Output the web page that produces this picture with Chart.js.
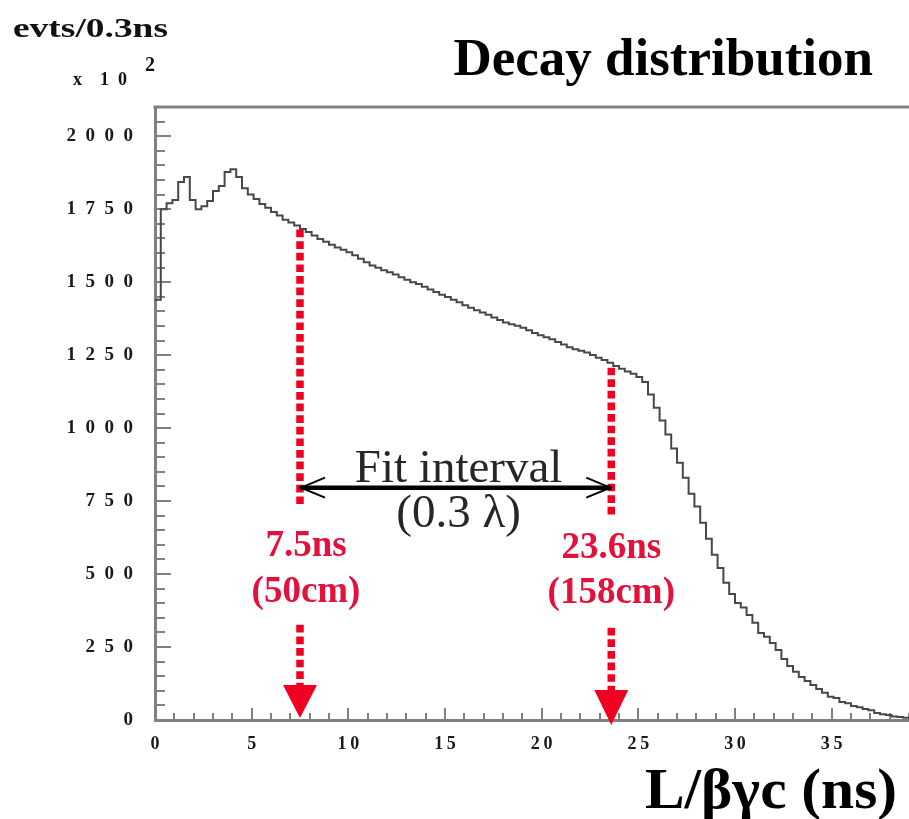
<!DOCTYPE html>
<html>
<head>
<meta charset="utf-8">
<title>Decay distribution</title>
<script src="https://cdn.jsdelivr.net/npm/chart.js@4.4.1/dist/chart.umd.min.js"></script>
<style>
  html, body { margin: 0; padding: 0; background: #ffffff; }
  canvas { display: block; }
</style>
</head>
<body>
<canvas id="decay" width="909" height="819"></canvas>
<script>
// Proper-time distribution, events per 0.3 ns bin (units of 10^2), first bin starts at 0 ns
const binStart = 0;
const binWidth = 0.3;
const counts = [
  1440, 1750, 1770, 1781, 1843, 1860, 1781, 1750, 1760, 1778,
  1812, 1829, 1877, 1887, 1860, 1822, 1800, 1785, 1768, 1755,
  1740, 1728, 1714, 1704, 1694, 1682, 1672, 1660, 1648, 1638,
  1628, 1619, 1611, 1602, 1592, 1580, 1568, 1557, 1549, 1541,
  1534, 1526, 1517, 1508, 1500, 1494, 1484, 1475, 1466, 1457,
  1449, 1440, 1431, 1421, 1412, 1404, 1396, 1388, 1379, 1370,
  1362, 1356, 1351, 1344, 1335, 1326, 1318, 1311, 1304, 1295,
  1286, 1277, 1270, 1265, 1259, 1250, 1241, 1233, 1224, 1213,
  1203, 1194, 1186, 1175, 1158, 1115, 1070, 1026,  978,  930,
   881,  830,  775,  731,  676,  621,  566,  521,  470,  432,
   401,  385,  360,  333,  298,  285,  264,  240,  209,  185,
   165,  147,  134,  120,  106,   93,   80,   75,   62,   57,
    48,   44,   38,   33,   24,   20,   17,   12,   10,    8
];

// Axis ranges and tick spacing
const xRange = [0, 39];
const yRange = [0, 2100];
const xMinorStep = 1, xMajorStep = 5;
const yMinorStep = 50, yMajorStep = 250;

// Fit interval limits (ns) and their captions
const fitLimits = [7.5, 23.6];
const fitTimeLabels = ['7.5ns', '23.6ns'];
const fitLengthLabels = ['(50cm)', '(158cm)'];

// Histogram outline: one point per bin low edge, plus the closing high edge
const outline = counts.map((v, i) => ({ x: binStart + i * binWidth, y: v }));
outline.push({ x: binStart + counts.length * binWidth, y: counts[counts.length - 1] });

const AXIS_GREY = '#808080';
const MARK_RED = '#f00020';
const TEXT_RED = '#e3123c';
const SERIF = '"Liberation Serif", "DejaVu Serif", serif';

// Vertical extents of the fit-limit markers, in y-axis units
const markerShape = {
  dashTop:    [1680, 1207],
  dashBottom: [730, 700],
  lowerTop:   [326, 316],
  headTop:    [120, 103],
  tip:        [7, -17],
  timeBase:   [562, 555],
  lengthBase: [404, 401],
  labelShift: [6, 0]
};
const fitArrowLevel = 796;

function spaced(v, sep) { return String(v).split('').join(sep); }

// Left-anchored text squeezed or widened to a given width
function drawStretched(ctx, text, x, y, width) {
  ctx.save();
  ctx.textAlign = 'left';
  const w = ctx.measureText(text).width;
  ctx.translate(x, y);
  ctx.scale(width / w, 1);
  ctx.fillText(text, 0, 0);
  ctx.restore();
}

const decorations = {
  id: 'decorations',
  beforeDatasetsDraw(chart) {
    const { ctx, chartArea: a, scales: { x, y } } = chart;
    ctx.save();
    ctx.strokeStyle = AXIS_GREY;
    // upper frame edge
    ctx.lineWidth = 3;
    ctx.beginPath();
    ctx.moveTo(a.left - 1.5, a.top);
    ctx.lineTo(a.right, a.top);
    ctx.stroke();
    // inward tick marks
    ctx.lineWidth = 2;
    ctx.beginPath();
    x.ticks.forEach(t => {
      const px = Math.round(x.getPixelForValue(t.value));
      const len = t.value % xMajorStep === 0 ? 12 : 7;
      ctx.moveTo(px, a.bottom);
      ctx.lineTo(px, a.bottom - len);
    });
    y.ticks.forEach(t => {
      const py = Math.round(y.getPixelForValue(t.value));
      const len = t.value % yMajorStep === 0 ? 16 : 10;
      ctx.moveTo(a.left, py);
      ctx.lineTo(a.left + len, py);
    });
    ctx.stroke();
    ctx.restore();
  },
  afterDatasetsDraw(chart) {
    const { ctx, scales: { x, y } } = chart;
    ctx.save();
    fitLimits.forEach((t, k) => {
      const px = x.getPixelForValue(t);
      // dashed drop lines
      ctx.strokeStyle = MARK_RED;
      ctx.lineWidth = 7.5;
      ctx.lineCap = 'butt';
      ctx.setLineDash([7.7, 3.9]);
      ctx.beginPath();
      ctx.moveTo(px, y.getPixelForValue(markerShape.dashTop[k]));
      ctx.lineTo(px, y.getPixelForValue(markerShape.dashBottom[k]));
      ctx.moveTo(px, y.getPixelForValue(markerShape.lowerTop[k]));
      ctx.lineTo(px, y.getPixelForValue(markerShape.headTop[k]));
      ctx.stroke();
      ctx.setLineDash([]);
      // solid arrow head pointing at the axis
      const hy = y.getPixelForValue(markerShape.headTop[k]);
      const ty = y.getPixelForValue(markerShape.tip[k]);
      ctx.fillStyle = MARK_RED;
      ctx.beginPath();
      ctx.moveTo(px - 17, hy);
      ctx.lineTo(px + 17, hy);
      ctx.lineTo(px, ty);
      ctx.closePath();
      ctx.fill();
      // captions
      ctx.fillStyle = TEXT_RED;
      ctx.font = 'bold 37px ' + SERIF;
      ctx.textAlign = 'center';
      ctx.textBaseline = 'alphabetic';
      const cx = px + markerShape.labelShift[k];
      ctx.fillText(fitTimeLabels[k], cx, y.getPixelForValue(markerShape.timeBase[k]));
      ctx.fillText(fitLengthLabels[k], cx, y.getPixelForValue(markerShape.lengthBase[k]));
    });

    // double-headed fit interval arrow
    const x1 = x.getPixelForValue(fitLimits[0]);
    const x2 = x.getPixelForValue(fitLimits[1]);
    const ay = y.getPixelForValue(fitArrowLevel);
    ctx.strokeStyle = '#000000';
    ctx.lineWidth = 4.5;
    ctx.beginPath();
    ctx.moveTo(x1, ay);
    ctx.lineTo(x2, ay);
    ctx.stroke();
    ctx.lineWidth = 2;
    ctx.beginPath();
    ctx.moveTo(x1 + 25, ay - 10); ctx.lineTo(x1 + 1, ay); ctx.lineTo(x1 + 25, ay + 10);
    ctx.moveTo(x2 - 25, ay - 10); ctx.lineTo(x2 - 1, ay); ctx.lineTo(x2 - 25, ay + 10);
    ctx.stroke();

    ctx.fillStyle = '#262626';
    ctx.font = '47px ' + SERIF;
    ctx.textAlign = 'center';
    const mid = (x1 + x2) / 2 + 3;
    ctx.fillText('Fit interval', mid, y.getPixelForValue(815));
    ctx.fillText('(0.3 \u03bb)', mid, y.getPixelForValue(661));
    ctx.restore();
  },
  afterDraw(chart) {
    const { ctx } = chart;
    ctx.save();
    ctx.fillStyle = '#000000';
    ctx.textBaseline = 'alphabetic';
    // plot title
    ctx.font = 'bold 53px ' + SERIF;
    ctx.textAlign = 'right';
    ctx.fillText('Decay distribution', 873, 75);
    // x-axis title
    ctx.font = 'bold 56px ' + SERIF;
    drawStretched(ctx, 'L/\u03b2\u03b3c (ns)', 645, 808, 252);
    // y-axis title and multiplier
    ctx.textAlign = 'left';
    ctx.fillStyle = '#111111';
    ctx.font = 'bold 27px ' + SERIF;
    drawStretched(ctx, 'evts/0.3ns', 13, 37, 155);
    ctx.font = 'bold 18px ' + SERIF;
    ctx.fillText('x', 73, 85);
    ctx.fillText(spaced(10, '\u2002'), 100, 85);
    ctx.font = 'bold 20px ' + SERIF;
    ctx.fillText('2', 145, 71);
    ctx.restore();
  }
};

new Chart(document.getElementById('decay'), {
  type: 'line',
  data: {
    datasets: [{
      data: outline,
      stepped: 'before',
      borderColor: '#484848',
      borderWidth: 2,
      pointRadius: 0,
      fill: false,
      tension: 0
    }]
  },
  options: {
    responsive: false,
    animation: false,
    events: [],
    layout: { padding: { top: 107, right: 0, bottom: 0, left: 0 } },
    plugins: { legend: { display: false }, title: { display: false }, tooltip: { enabled: false } },
    scales: {
      x: {
        type: 'linear',
        min: xRange[0],
        max: xRange[1],
        afterFit: s => { s.height = 99; s.paddingLeft = 0; s.paddingRight = 0; },
        grid: { display: true, drawOnChartArea: false, drawTicks: false },
        border: { display: true, color: AXIS_GREY, width: 3 },
        ticks: {
          stepSize: xMinorStep,
          autoSkip: false,
          maxTicksLimit: 1000,
          maxRotation: 0,
          padding: 14,
          color: '#1a1a1a',
          font: { family: SERIF, size: 18, weight: 'bold' },
          callback: v => (v % xMajorStep === 0 ? spaced(v, '\u2009') : '')
        }
      },
      y: {
        type: 'linear',
        min: yRange[0],
        max: yRange[1],
        afterFit: s => { s.width = 155; s.paddingTop = 0; s.paddingBottom = 0; },
        grid: { display: true, drawOnChartArea: false, drawTicks: false },
        border: { display: true, color: AXIS_GREY, width: 3 },
        ticks: {
          stepSize: yMinorStep,
          autoSkip: false,
          maxTicksLimit: 1000,
          padding: 22,
          color: '#1a1a1a',
          font: { family: SERIF, size: 19, weight: 'bold' },
          callback: v => (v % yMajorStep === 0 ? spaced(v, '\u2002') : '')
        }
      }
    }
  },
  plugins: [decorations]
});
</script>
</body>
</html>
